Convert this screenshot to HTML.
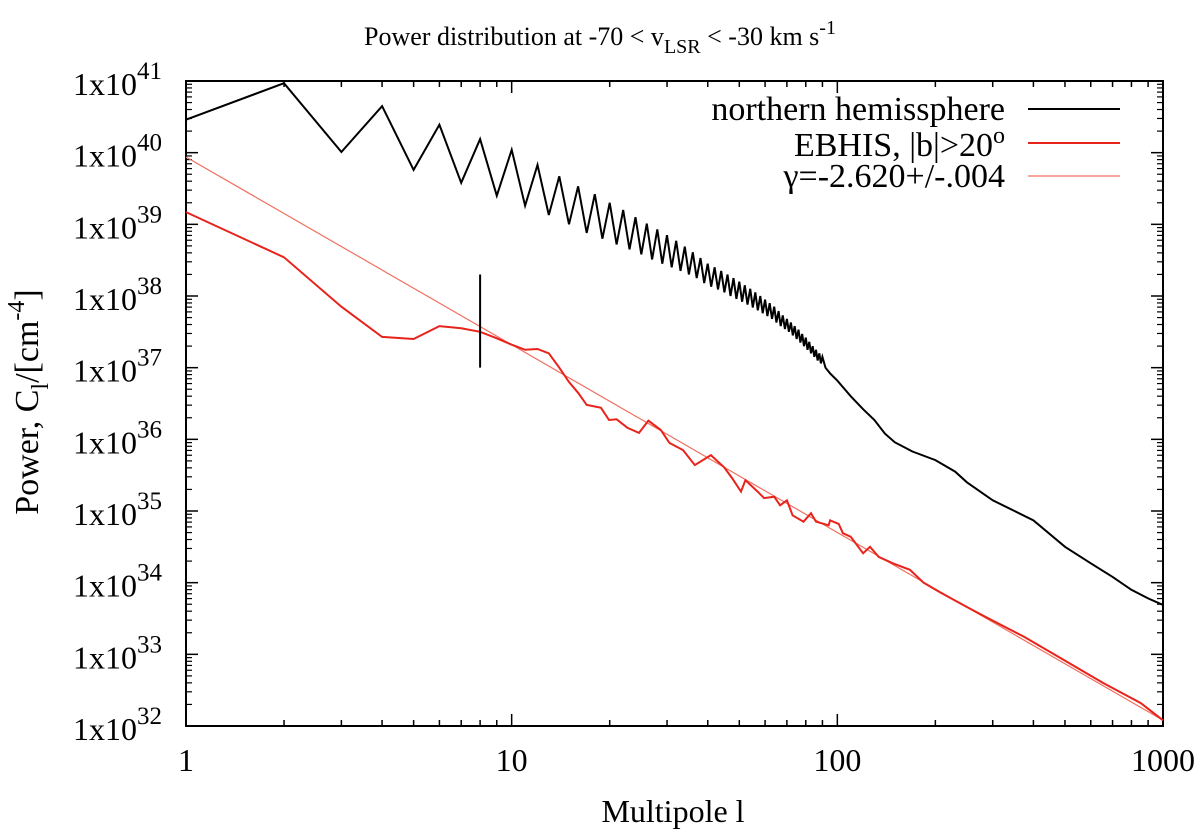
<!DOCTYPE html>
<html><head><meta charset="utf-8"><style>
body{margin:0;background:#fff}
svg text{font-family:"Liberation Serif",serif;fill:#000}
</style></head><body>
<svg id="chart" width="1200" height="835" xmlns="http://www.w3.org/2000/svg">
<text x="600" y="45" font-size="26" text-anchor="middle">Power distribution at -70 &lt; v<tspan font-size="20" dy="8">LSR</tspan><tspan dy="-8"> &lt; -30 km s</tspan><tspan font-size="20" dy="-11">-1</tspan></text>
<text x="673" y="822" font-size="32" text-anchor="middle">Multipole l</text>
<text transform="translate(38,402) rotate(-90)" font-size="34" text-anchor="middle">Power,  C<tspan font-size="24" dy="10">l</tspan><tspan dy="-10">/[cm</tspan><tspan font-size="24" dy="-14">-4</tspan><tspan dy="14">]</tspan></text>
<g id="plot"></g>
<g>
<text x="1005" y="120" font-size="34" text-anchor="end">northern hemissphere</text>
<line x1="1028" y1="109" x2="1120" y2="109" stroke="#000" stroke-width="2"/>
<text x="1005" y="156" font-size="34" text-anchor="end">EBHIS, |b|&gt;20<tspan font-size="24" dy="-13">o</tspan></text>
<line x1="1028" y1="143" x2="1120" y2="143" stroke="#e8231b" stroke-width="2"/>
<text x="1005" y="187" font-size="34" text-anchor="end">γ=-2.620+/-.004</text>
<line x1="1028" y1="176" x2="1120" y2="176" stroke="#f07060" stroke-width="1.2"/>
</g>
</svg>
<script>
const xTicks=[1,10,100,1000];
const xTickLabels=["1","10","100","1000"];
const yExps=[32,33,34,35,36,37,38,39,40,41];
const blackPeakL=[2,4,6,8,10,12,14,16,18,20,22,24,26,28,30,32,34,36,38,40,42,44,46,48,50,52,54,56,58,60,62,64,66,68,70,72,74,76,78,80,82,84,86,88,90];
const blackPeakV=[40.97,40.65,40.39,40.19,40.04,39.83,39.67,39.53,39.42,39.30,39.20,39.10,39.01,38.93,38.85,38.77,38.69,38.61,38.53,38.45,38.40,38.35,38.30,38.25,38.20,38.15,38.10,38.05,38.0,37.95,37.90,37.85,37.79,37.73,37.68,37.63,37.58,37.53,37.47,37.42,37.36,37.30,37.25,37.20,37.15];
const blackTroughL=[1,3,5,7,9,11,13,15,17,19,21,23,25,27,29,31,33,35,37,39,41,43,45,47,49,51,53,55,57,59,61,63,65,67,69,71,73,75,77,79,81,83,85,87,89];
const blackTroughV=[40.46,40.01,39.76,39.58,39.40,39.26,39.13,39.0,38.88,38.80,38.72,38.65,38.58,38.51,38.45,38.40,38.35,38.30,38.25,38.18,38.13,38.09,38.05,38.0,37.96,37.92,37.88,37.84,37.80,37.76,37.72,37.68,37.63,37.58,37.54,37.50,37.45,37.40,37.35,37.30,37.25,37.20,37.15,37.10,37.06];
const blackTailL=[92,95,100,110,120,130,140,150,170,200,230,250,300,350,400,500,600,700,800,900,1000];
const blackTailV=[37.0,36.92,36.82,36.6,36.42,36.27,36.08,35.96,35.83,35.71,35.55,35.40,35.15,35.0,34.87,34.5,34.27,34.08,33.9,33.78,33.69];
const redL=[1,2,3,4,5,6,7,8,9,10,11,12,13,14,15,16,17,18.8,19.9,21,22.7,24.6,26.3,28.7,30.5,33.6,36.5,40.9,44.9,47.5,50.6,52.2,56.9,59.6,64,66.7,70,72.9,78.7,83,86,94,95,101,104,110,120,126,134,148,167,184,206,250,286,376,497,655,855,1000];
const redV=[39.17,38.54,37.85,37.43,37.4,37.58,37.55,37.5,37.41,37.32,37.25,37.26,37.2,37.0,36.8,36.65,36.48,36.44,36.27,36.28,36.16,36.09,36.26,36.13,35.95,35.85,35.64,35.78,35.61,35.46,35.27,35.43,35.27,35.18,35.2,35.08,35.15,34.94,34.85,34.97,34.85,34.8,34.87,34.82,34.69,34.64,34.41,34.5,34.36,34.27,34.18,34.0,33.87,33.66,33.52,33.24,32.92,32.6,32.32,32.08];
const fitIntercept=39.94, fitSlope=-2.62;
const markerL=8, markerLo=37.0, markerHi=38.3;

const L=186,R=1163,T=81,B=726;
const xs=l=>L+(R-L)*Math.log10(l)/3;
const ys=v=>T+(41-v)*(B-T)/9;
const NS="http://www.w3.org/2000/svg";
const g=document.getElementById('plot');
function mk(tag,attrs){const e=document.createElementNS(NS,tag);for(const k in attrs)e.setAttribute(k,attrs[k]);g.appendChild(e);return e;}
const fr=mk('rect',{x:L,y:T,width:R-L,height:B-T,fill:'none',stroke:'#000','stroke-width':2});


for(let d=0;d<3;d++){for(let m=1;m<10;m++){const l=Math.pow(10,d)*m;const x=xs(l);const len=m==1?12:6;
mk('line',{x1:x,y1:B,x2:x,y2:B-len,stroke:'#000','stroke-width':1.5});
mk('line',{x1:x,y1:T,x2:x,y2:T+len,stroke:'#000','stroke-width':1.5});}}
xTicks.forEach((l,i)=>{const t=mk('text',{x:xs(l),y:771,'font-size':32,'text-anchor':'middle'});t.textContent=xTickLabels[i];

});
yExps.forEach(e=>{const y=ys(e);
mk('line',{x1:L,y1:y,x2:L+12,y2:y,stroke:'#000','stroke-width':1.5});
mk('line',{x1:R,y1:y,x2:R-12,y2:y,stroke:'#000','stroke-width':1.5});
if(e<41){for(let m=2;m<10;m++){const yy=ys(e+Math.log10(m));
mk('line',{x1:L,y1:yy,x2:L+6,y2:yy,stroke:'#000','stroke-width':1.2});
mk('line',{x1:R,y1:yy,x2:R-6,y2:yy,stroke:'#000','stroke-width':1.2});}}
const t=mk('text',{x:73,y:y+14,'font-size':32,'text-anchor':'start'});
t.innerHTML='1x10<tspan font-size="25" dy="-16">'+e+'</tspan>';

});
const fit=mk('line',{x1:xs(1),y1:ys(fitIntercept),x2:xs(1000),y2:ys(fitIntercept+fitSlope*3),stroke:'#f07060','stroke-width':1.2});


const bpts=[];
for(let i=0;i<blackTroughL.length;i++){bpts.push([blackTroughL[i],blackTroughV[i]]);if(i<blackPeakL.length)bpts.push([blackPeakL[i],blackPeakV[i]]);}
blackTailL.forEach((l,i)=>bpts.push([l,blackTailV[i]]));
const bp=mk('polyline',{points:bpts.map(p=>xs(p[0]).toFixed(1)+','+ys(p[1]).toFixed(1)).join(' '),fill:'none',stroke:'#000','stroke-width':2});


const rp=mk('polyline',{points:redL.map((l,i)=>xs(l).toFixed(1)+','+ys(redV[i]).toFixed(1)).join(' '),fill:'none',stroke:'#e8231b','stroke-width':2});


const mkr=mk('line',{x1:xs(markerL),y1:ys(markerHi),x2:xs(markerL),y2:ys(markerLo),stroke:'#000','stroke-width':2});


</script>
</body></html>
